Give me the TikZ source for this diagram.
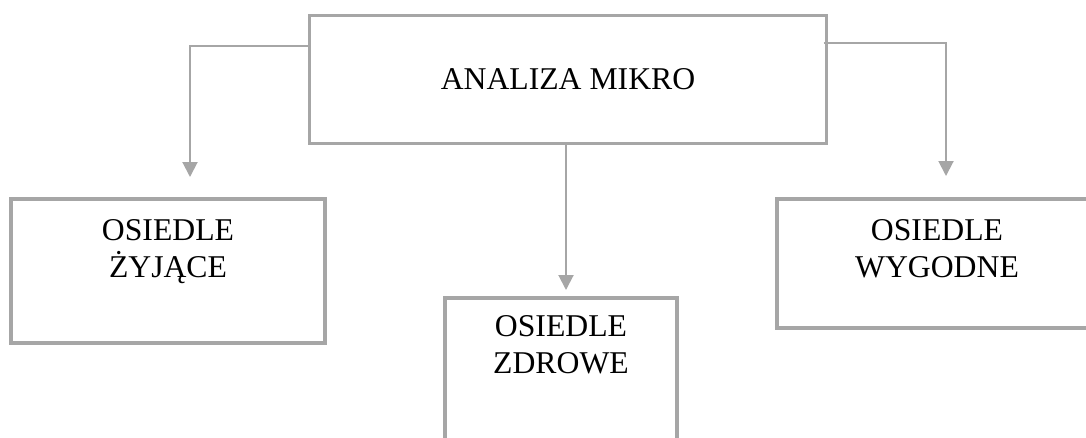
\documentclass[tikz,border=0pt]{standalone}
\usepackage{fontspec}
\setmainfont{Liberation Serif}
\usetikzlibrary{arrows.meta}
\definecolor{framegray}{RGB}{166,166,166}
\tikzset{
  box/.style={draw=framegray, line width=3.5pt, rectangle, inner sep=0pt, outer sep=0pt, anchor=north west},
  label text/.style={inner sep=0pt, align=center, font=\fontsize{31.7}{36.8}\selectfont, text=black},
  conn/.style={draw=framegray, line width=2pt, -{Triangle[width=15pt,length=15pt]}},
}
\begin{document}
\begin{tikzpicture}[x=1pt,y=-1pt]
  \useasboundingbox (0,0) rectangle (1086,437);
  \clip (0,0) rectangle (1086,437);

  % frames
  \node[box, minimum width=517pt, minimum height=128pt] (top) at (309.5,15.5) {};
  \node[box, minimum width=314pt, minimum height=144pt] (left) at (11,199) {};
  \node[box, minimum width=232pt, minimum height=170pt] (mid) at (445,298) {};
  \node[box, minimum width=322pt, minimum height=129pt] (right) at (777,199) {};

  % captions (base = baseline of the second line)
  \node[label text, anchor=base] (toptext) at (568,89) {ANALIZA MIKRO};
  \node[label text, anchor=base] (lefttext) at (168,277) {OSIEDLE\\ŻYJĄCE};
  \node[label text, anchor=base] (midtext) at (561,373.5) {OSIEDLE\\ZDROWE};
  \node[label text, anchor=base] (righttext) at (937,277) {OSIEDLE\\WYGODNE};

  % connectors
  \coordinate (ltip) at (190,177);
  \coordinate (rtip) at (946,176);
  \coordinate (mtip) at (566,290);
  \draw[conn] (top.west |- 0,46) -| (ltip);
  \draw[conn] ([xshift=-3pt]top.east |- 0,43) -| (rtip);
  \draw[conn] (top.south -| mtip) -- (mtip);
\end{tikzpicture}
\end{document}
